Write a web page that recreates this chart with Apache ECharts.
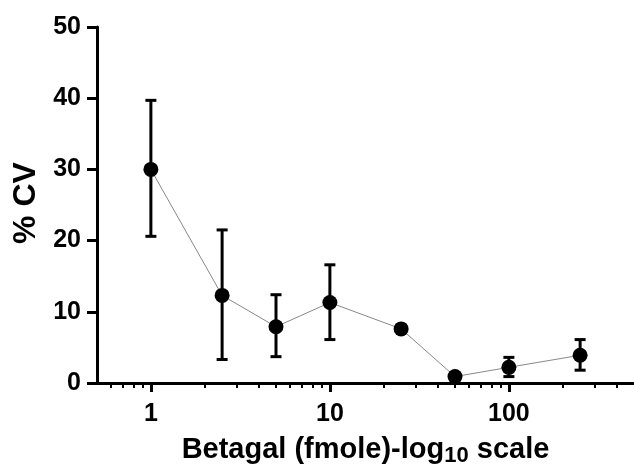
<!DOCTYPE html>
<html>
<head>
<meta charset="utf-8">
<script src="https://cdn.jsdelivr.net/npm/echarts@6/dist/echarts.min.js"></script>
<style>
  html, body { margin: 0; padding: 0; background: #fff; }
  #chart { width: 634px; height: 467px; }
</style>
</head>
<body>
<div id="chart"></div>
<script>
// betagal amount (fmole) and %CV with error bar ends
const doses = [1, 2.5, 5, 10, 25, 50, 100, 250];
const cv = [30.0, 12.3, 7.9, 11.3, 7.6, 0.9, 2.2, 3.9];
const errLow = [20.6, 3.3, 3.7, 6.1, null, null, 0.9, 1.8];
const errHigh = [39.7, 21.5, 12.4, 16.6, null, null, 3.6, 6.1];

const majorTicks = [1, 10, 100];
const minorTicks = [0.6, 0.7, 0.8, 0.9, 2, 3, 4, 5, 6, 7, 8, 9,
  20, 30, 40, 50, 60, 70, 80, 90, 200, 300, 400];
const yTicks = [0, 10, 20, 30, 40, 50];

const font = 'Liberation Sans, Arial, sans-serif';

const chart = echarts.init(document.getElementById('chart'));

let points = [];
let bars = [];
for (let i = 0; i < doses.length; i++) {
  points.push([doses[i], cv[i]]);
  if (errLow[i] != null) {
    bars.push([doses[i], errLow[i], errHigh[i]]);
  }
}

function renderErr(params, api) {
  const x = api.value(0);
  const lo = api.coord([x, api.value(1)]);
  const hi = api.coord([x, api.value(2)]);
  const cap = 5.5;
  const style = { stroke: '#000', lineWidth: 3 };
  return {
    type: 'group',
    children: [
      { type: 'line', shape: { x1: lo[0], y1: lo[1], x2: hi[0], y2: hi[1] }, style: style },
      { type: 'line', shape: { x1: lo[0] - cap, y1: lo[1], x2: lo[0] + cap, y2: lo[1] }, style: style },
      { type: 'line', shape: { x1: hi[0] - cap, y1: hi[1], x2: hi[0] + cap, y2: hi[1] }, style: style }
    ]
  };
}

const option = {
  animation: false,
  grid: { left: 97, right: 0, top: 27, bottom: 84, outerBoundsMode: 'none', containLabel: false },
  xAxis: [{
    type: 'log',
    min: 0.5,
    max: 500,
    name: 'Betagal (fmole)-log{sub|10} scale',
    nameLocation: 'middle',
    nameGap: 50,
    nameTextStyle: {
      fontFamily: font, fontSize: 29, fontWeight: 'bold', color: '#000',
      lineHeight: 34,
      rich: {
        sub: { fontFamily: font, fontSize: 22, fontWeight: 'bold', color: '#000',
          lineHeight: 22, verticalAlign: 'bottom' }
      }
    },
    axisLine: { lineStyle: { color: '#000', width: 3 } },
    axisTick: { length: 9, lineStyle: { color: '#000', width: 3 }, customValues: majorTicks },
    axisLabel: {
      customValues: majorTicks,
      margin: 19,
      fontFamily: font, fontSize: 25, fontWeight: 'bold', color: '#000'
    },
    splitLine: { show: false }
  }, {
    type: 'log',
    min: 0.5,
    max: 500,
    position: 'bottom',
    axisLine: { show: false },
    axisTick: { length: 5, lineStyle: { color: '#000', width: 2 }, customValues: minorTicks },
    axisLabel: { show: false },
    splitLine: { show: false }
  }],
  yAxis: {
    type: 'value',
    min: 0,
    max: 50,
    interval: 10,
    name: '% CV',
    nameLocation: 'middle',
    nameRotate: 90,
    nameGap: 55,
    nameTextStyle: { fontFamily: font, fontSize: 32, fontWeight: 'bold', color: '#000',
      padding: [0, 0, 0, 4] },
    axisLine: { show: true, lineStyle: { color: '#000', width: 3 } },
    axisTick: { show: true, length: 10, lineStyle: { color: '#000', width: 3 } },
    axisLabel: {
      margin: 16,
      fontFamily: font, fontSize: 25, fontWeight: 'bold', color: '#000',
      formatter: function (v) { return yTicks.indexOf(v) >= 0 ? String(v) : ''; }
    },
    splitLine: { show: false }
  },
  series: [{
    type: 'line',
    data: points,
    symbol: 'circle',
    symbolSize: 15,
    itemStyle: { color: '#000' },
    lineStyle: { color: '#888', width: 1 },
    z: 3
  }, {
    type: 'custom',
    data: bars,
    renderItem: renderErr,
    z: 2
  }]
};

chart.setOption(option);
</script>
</body>
</html>
